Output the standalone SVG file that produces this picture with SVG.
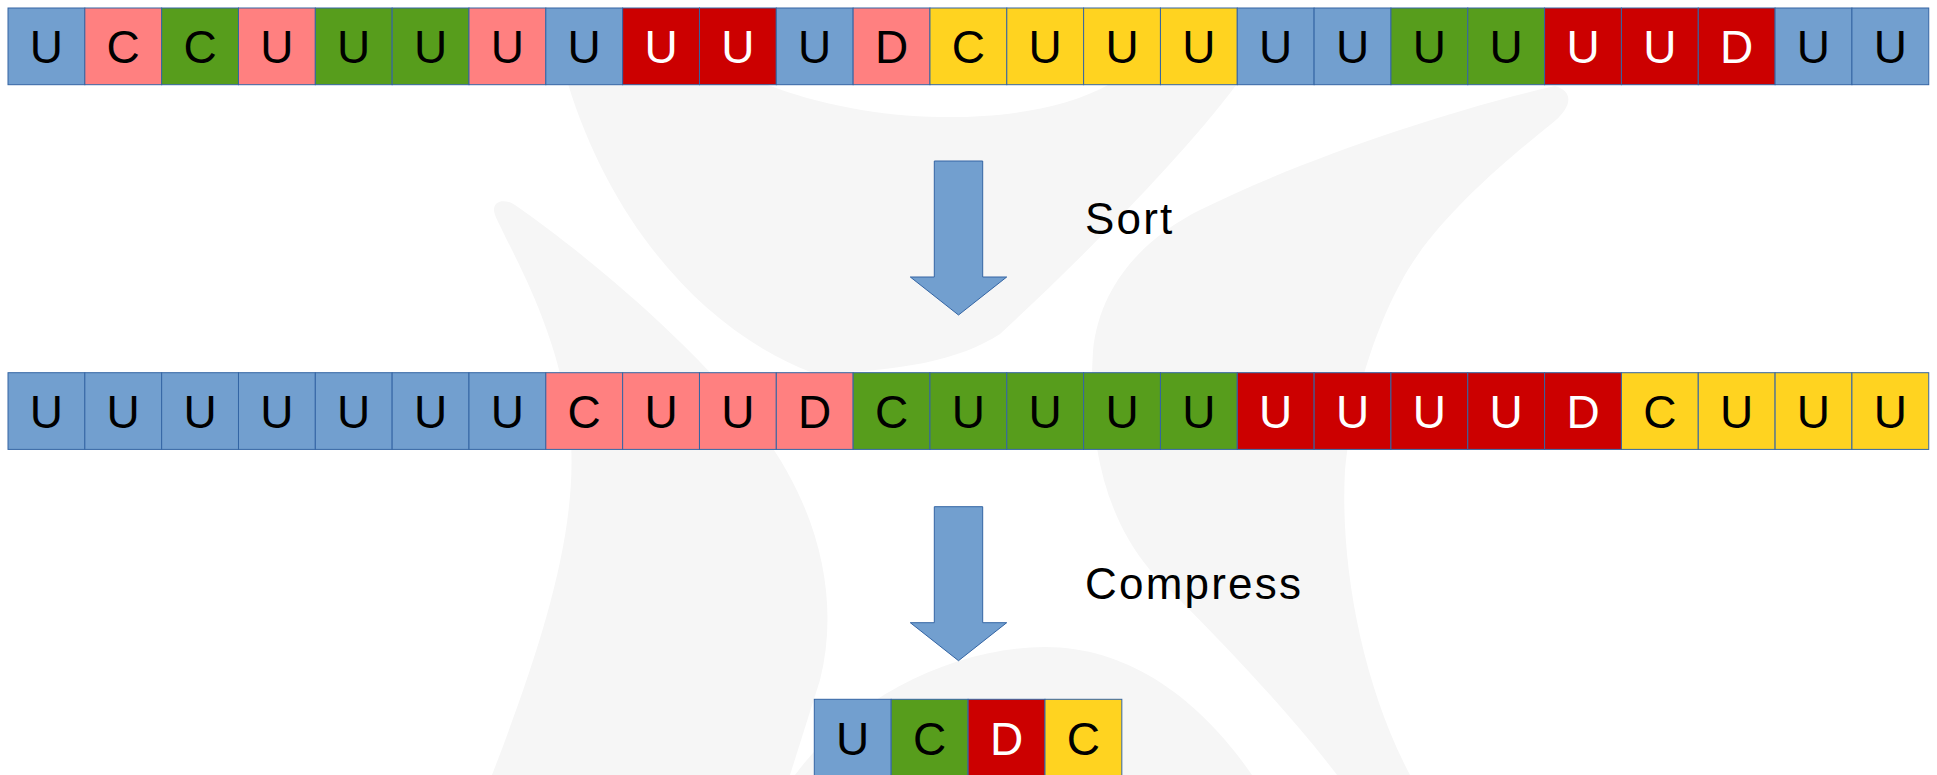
<svg xmlns="http://www.w3.org/2000/svg" width="1937" height="775" viewBox="0 0 1937 775">
<style>
.bg{fill:#f6f6f6;stroke:none}
.cell rect{stroke:#3465a4;stroke-width:1;width:76.83px;height:76.7px}
.cell text{font-family:"Liberation Sans",Arial,sans-serif;font-size:46px;text-anchor:middle;fill:#000}
.b rect{fill:#729fcf}
.p rect{fill:#ff8080}
.g rect{fill:#579d1c}
.r rect{fill:#cc0000}
.r text{fill:#ffffff}
.y rect{fill:#ffd320}
.arrow{fill:#729fcf;stroke:#3465a4;stroke-width:1}
.label{font-family:"Liberation Sans",Arial,sans-serif;font-size:44px;letter-spacing:2.2px;fill:#000}
</style>
<defs>
<path id="blk" d="M-24.2,0 H24.2 V116 H48.2 L0,154 L-48.2,116 H-24.2 Z"/>
</defs>
<rect x="0" y="0" width="1937" height="775" fill="#ffffff"/>
<g id="watermark">
<path class="bg" d="M568,84 C610,220 700,330 813,373 C900,372 960,360 1000,334 C1080,260 1180,160 1237,84 L1110,84 C1060,112 990,118 940,117 C880,116 820,105 765,84 Z"/>
<path class="bg" d="M492,775 C540,650 580,530 570,430 C560,330 510,250 495,215 C490,200 505,198 515,205 C580,250 690,340 760,430 C820,510 840,600 820,680 L790,775 Z"/>
<path class="bg" d="M1555,86 C1575,92 1572,108 1550,125 C1500,165 1430,225 1400,284 C1375,330 1352,400 1345,470 C1340,560 1360,680 1410,775 L1337,775 C1280,700 1200,620 1150,570 C1100,510 1088,430 1093,351 C1100,280 1150,235 1200,210 C1300,160 1450,110 1555,86 Z"/>
<path class="bg" d="M795,775 C850,700 950,648 1045,647 C1130,647 1200,700 1252,775 Z"/>
</g>
<g id="row-input">
<g id="in0" class="cell b" transform="translate(8,8)"><rect/><text x="38.4" y="55.3">U</text></g>
<g id="in1" class="cell p" transform="translate(84.83,8)"><rect/><text x="38.4" y="55.3">C</text></g>
<g id="in2" class="cell g" transform="translate(161.66,8)"><rect/><text x="38.4" y="55.3">C</text></g>
<g id="in3" class="cell p" transform="translate(238.49,8)"><rect/><text x="38.4" y="55.3">U</text></g>
<g id="in4" class="cell g" transform="translate(315.32,8)"><rect/><text x="38.4" y="55.3">U</text></g>
<g id="in5" class="cell g" transform="translate(392.15,8)"><rect/><text x="38.4" y="55.3">U</text></g>
<g id="in6" class="cell p" transform="translate(468.98,8)"><rect/><text x="38.4" y="55.3">U</text></g>
<g id="in7" class="cell b" transform="translate(545.81,8)"><rect/><text x="38.4" y="55.3">U</text></g>
<g id="in8" class="cell r" transform="translate(622.64,8)"><rect/><text x="38.4" y="55.3">U</text></g>
<g id="in9" class="cell r" transform="translate(699.47,8)"><rect/><text x="38.4" y="55.3">U</text></g>
<g id="in10" class="cell b" transform="translate(776.3,8)"><rect/><text x="38.4" y="55.3">U</text></g>
<g id="in11" class="cell p" transform="translate(853.13,8)"><rect/><text x="38.4" y="55.3">D</text></g>
<g id="in12" class="cell y" transform="translate(929.96,8)"><rect/><text x="38.4" y="55.3">C</text></g>
<g id="in13" class="cell y" transform="translate(1006.79,8)"><rect/><text x="38.4" y="55.3">U</text></g>
<g id="in14" class="cell y" transform="translate(1083.62,8)"><rect/><text x="38.4" y="55.3">U</text></g>
<g id="in15" class="cell y" transform="translate(1160.45,8)"><rect/><text x="38.4" y="55.3">U</text></g>
<g id="in16" class="cell b" transform="translate(1237.28,8)"><rect/><text x="38.4" y="55.3">U</text></g>
<g id="in17" class="cell b" transform="translate(1314.11,8)"><rect/><text x="38.4" y="55.3">U</text></g>
<g id="in18" class="cell g" transform="translate(1390.94,8)"><rect/><text x="38.4" y="55.3">U</text></g>
<g id="in19" class="cell g" transform="translate(1467.77,8)"><rect/><text x="38.4" y="55.3">U</text></g>
<g id="in20" class="cell r" transform="translate(1544.6,8)"><rect/><text x="38.4" y="55.3">U</text></g>
<g id="in21" class="cell r" transform="translate(1621.43,8)"><rect/><text x="38.4" y="55.3">U</text></g>
<g id="in22" class="cell r" transform="translate(1698.26,8)"><rect/><text x="38.4" y="55.3">D</text></g>
<g id="in23" class="cell b" transform="translate(1775.09,8)"><rect/><text x="38.4" y="55.3">U</text></g>
<g id="in24" class="cell b" transform="translate(1851.92,8)"><rect/><text x="38.4" y="55.3">U</text></g>
</g>
<g id="row-sorted">
<g id="s0" class="cell b" transform="translate(8,372.7)"><rect/><text x="38.4" y="55.3">U</text></g>
<g id="s1" class="cell b" transform="translate(84.83,372.7)"><rect/><text x="38.4" y="55.3">U</text></g>
<g id="s2" class="cell b" transform="translate(161.66,372.7)"><rect/><text x="38.4" y="55.3">U</text></g>
<g id="s3" class="cell b" transform="translate(238.49,372.7)"><rect/><text x="38.4" y="55.3">U</text></g>
<g id="s4" class="cell b" transform="translate(315.32,372.7)"><rect/><text x="38.4" y="55.3">U</text></g>
<g id="s5" class="cell b" transform="translate(392.15,372.7)"><rect/><text x="38.4" y="55.3">U</text></g>
<g id="s6" class="cell b" transform="translate(468.98,372.7)"><rect/><text x="38.4" y="55.3">U</text></g>
<g id="s7" class="cell p" transform="translate(545.81,372.7)"><rect/><text x="38.4" y="55.3">C</text></g>
<g id="s8" class="cell p" transform="translate(622.64,372.7)"><rect/><text x="38.4" y="55.3">U</text></g>
<g id="s9" class="cell p" transform="translate(699.47,372.7)"><rect/><text x="38.4" y="55.3">U</text></g>
<g id="s10" class="cell p" transform="translate(776.3,372.7)"><rect/><text x="38.4" y="55.3">D</text></g>
<g id="s11" class="cell g" transform="translate(853.13,372.7)"><rect/><text x="38.4" y="55.3">C</text></g>
<g id="s12" class="cell g" transform="translate(929.96,372.7)"><rect/><text x="38.4" y="55.3">U</text></g>
<g id="s13" class="cell g" transform="translate(1006.79,372.7)"><rect/><text x="38.4" y="55.3">U</text></g>
<g id="s14" class="cell g" transform="translate(1083.62,372.7)"><rect/><text x="38.4" y="55.3">U</text></g>
<g id="s15" class="cell g" transform="translate(1160.45,372.7)"><rect/><text x="38.4" y="55.3">U</text></g>
<g id="s16" class="cell r" transform="translate(1237.28,372.7)"><rect/><text x="38.4" y="55.3">U</text></g>
<g id="s17" class="cell r" transform="translate(1314.11,372.7)"><rect/><text x="38.4" y="55.3">U</text></g>
<g id="s18" class="cell r" transform="translate(1390.94,372.7)"><rect/><text x="38.4" y="55.3">U</text></g>
<g id="s19" class="cell r" transform="translate(1467.77,372.7)"><rect/><text x="38.4" y="55.3">U</text></g>
<g id="s20" class="cell r" transform="translate(1544.6,372.7)"><rect/><text x="38.4" y="55.3">D</text></g>
<g id="s21" class="cell y" transform="translate(1621.43,372.7)"><rect/><text x="38.4" y="55.3">C</text></g>
<g id="s22" class="cell y" transform="translate(1698.26,372.7)"><rect/><text x="38.4" y="55.3">U</text></g>
<g id="s23" class="cell y" transform="translate(1775.09,372.7)"><rect/><text x="38.4" y="55.3">U</text></g>
<g id="s24" class="cell y" transform="translate(1851.92,372.7)"><rect/><text x="38.4" y="55.3">U</text></g>
</g>
<g id="row-compressed">
<g id="c0" class="cell b" transform="translate(814.3,699.3)"><rect/><text x="38.4" y="55.3">U</text></g>
<g id="c1" class="cell g" transform="translate(891.2,699.3)"><rect/><text x="38.4" y="55.3">C</text></g>
<g id="c2" class="cell r" transform="translate(968.1,699.3)"><rect/><text x="38.4" y="55.3">D</text></g>
<g id="c3" class="cell y" transform="translate(1045,699.3)"><rect/><text x="38.4" y="55.3">C</text></g>
</g>
<g id="connectors">
<use href="#blk" class="arrow" transform="translate(958.5,161)"/>
<use href="#blk" class="arrow" transform="translate(958.5,506.7)"/>
</g>
<g id="label-sort"><text class="label" x="1085" y="234">Sort</text></g>
<g id="label-compress"><text class="label" x="1085" y="599">Compress</text></g>
</svg>
